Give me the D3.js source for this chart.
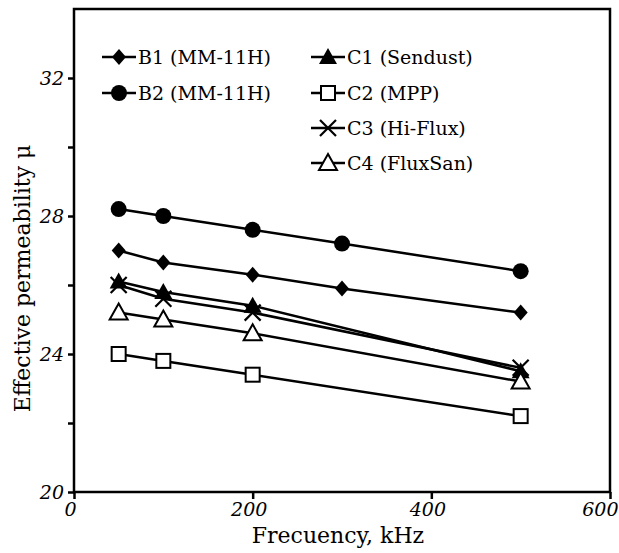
<!DOCTYPE html>
<html>
<head>
<meta charset="utf-8">
<title>permeability vs frequency</title>
<script src="https://d3js.org/d3.v7.min.js"></script>
<style>
  html, body { margin: 0; padding: 0; background: #fff; }
  svg { font-family: 'DejaVu Serif', 'Liberation Serif', serif; }
</style>
</head>
<body>
<div id="chart"></div>
<script>
// frequencies (kHz)
const freqB = [50, 100, 200, 300, 500]
const freqC = [50, 100, 200, 500]

// effective permeability values
const b1 = [27.0, 26.65, 26.3, 25.9, 25.2]
const b2 = [28.2, 28.0, 27.6, 27.2, 26.4]
const c1 = [26.1, 25.8, 25.4, 23.5]
const c2 = [24.0, 23.8, 23.4, 22.2]
const c3 = [26.0, 25.6, 25.2, 23.6]
const c4 = [25.2, 25.0, 24.6, 23.2]

const seriesNames = ['B1 (MM-11H)', 'B2 (MM-11H)', 'C1 (Sendust)', 'C2 (MPP)', 'C3 (Hi-Flux)', 'C4 (FluxSan)']
const xTicks = [0, 200, 400, 600]
const yTicks = [20, 22, 24, 26, 28, 30, 32]
const yLabels = [20, 24, 28, 32]

const series = [
  {name: seriesNames[0], x: freqB, y: b1, mark: 'diamond'},
  {name: seriesNames[1], x: freqB, y: b2, mark: 'circle'},
  {name: seriesNames[2], x: freqC, y: c1, mark: 'tri'},
  {name: seriesNames[3], x: freqC, y: c2, mark: 'square'},
  {name: seriesNames[4], x: freqC, y: c3, mark: 'cross'},
  {name: seriesNames[5], x: freqC, y: c4, mark: 'opentri'}
]

const W = 619, H = 553
const m = {left: 74, right: 9, top: 9, bottom: 61}

const svg = d3.select('#chart').append('svg')
  .attr('width', W).attr('height', H)

const x = d3.scaleLinear().domain([0, 600]).range([m.left, W - m.right])
const y = d3.scaleLinear().domain([20, 34]).range([H - m.bottom, m.top])

// frame
svg.append('rect')
  .attr('x', x(0)).attr('y', y(34))
  .attr('width', x(600) - x(0)).attr('height', y(20) - y(34))
  .attr('fill', 'none').attr('stroke', '#000').attr('stroke-width', 2.5)

// axes
const yAxis = d3.axisLeft(y).tickValues(yTicks).tickSize(6).tickPadding(4)
  .tickFormat(d => yLabels.includes(d) ? d : '')
const xAxis = d3.axisBottom(x).tickValues(xTicks).tickSize(7).tickPadding(4)

const gy = svg.append('g').attr('transform', `translate(${x(0)},0)`).call(yAxis)
const gx = svg.append('g').attr('transform', `translate(0,${y(20)})`).call(xAxis)

for (const g of [gx, gy]) {
  g.select('.domain').remove()
  g.selectAll('.tick line').attr('stroke', '#000').attr('stroke-width', 2.5)
  g.selectAll('.tick text')
    .attr('fill', '#000')
    .style('font-size', '19px')
    .style('font-style', 'italic')
    .style('font-family', "'DejaVu Serif', serif")
}
// x labels sit a little left of their ticks; last one is pulled in so it fits
gx.selectAll('.tick text').attr('dx', -4)
gx.selectAll('.tick text').filter(d => d === 600)
  .attr('text-anchor', 'end').attr('dx', 8)

// axis titles
svg.append('text')
  .attr('x', (x(0) + x(600)) / 2 - 4).attr('y', 543)
  .attr('text-anchor', 'middle')
  .style('font-size', '22px')
  .text('Frecuency, kHz')

svg.append('text')
  .attr('transform', `translate(30,${(y(20) + y(34)) / 2 + 28}) rotate(-90)`)
  .attr('text-anchor', 'middle')
  .style('font-size', '22px')
  .text('Effective permeability μ')

// marker drawing
function drawMark(g, type, cx, cy) {
  if (type === 'diamond') {
    g.append('path').attr('d', `M${cx},${cy - 8}L${cx + 7},${cy}L${cx},${cy + 8}L${cx - 7},${cy}Z`)
      .attr('fill', '#000')
  } else if (type === 'circle') {
    g.append('circle').attr('cx', cx).attr('cy', cy).attr('r', 8).attr('fill', '#000')
  } else if (type === 'tri') {
    g.append('path').attr('d', `M${cx},${cy - 9}L${cx + 9},${cy + 7}L${cx - 9},${cy + 7}Z`)
      .attr('fill', '#000')
  } else if (type === 'opentri') {
    g.append('path').attr('d', `M${cx},${cy - 9}L${cx + 9},${cy + 7}L${cx - 9},${cy + 7}Z`)
      .attr('fill', '#fff').attr('stroke', '#000').attr('stroke-width', 2)
  } else if (type === 'square') {
    g.append('rect').attr('x', cx - 7).attr('y', cy - 7).attr('width', 14).attr('height', 14)
      .attr('fill', '#fff').attr('stroke', '#000').attr('stroke-width', 2)
  } else if (type === 'cross') {
    g.append('path').attr('d', `M${cx - 8},${cy - 8}L${cx + 8},${cy + 8}M${cx - 8},${cy + 8}L${cx + 8},${cy - 8}`)
      .attr('stroke', '#000').attr('stroke-width', 2.2).attr('fill', 'none')
  }
}

const line = d3.line().x(d => x(d[0])).y(d => y(d[1]))

// lines first, then markers
series.forEach(s => {
  const pts = s.x.map((v, i) => [v, s.y[i]])
  svg.append('path').datum(pts)
    .attr('d', line)
    .attr('fill', 'none').attr('stroke', '#000').attr('stroke-width', 2.5)
})
series.forEach(s => {
  const g = svg.append('g')
  s.x.forEach((v, i) => drawMark(g, s.mark, x(v), y(s.y[i])))
})

// legend
const legendPos = [
  [119, 57], [119, 93],
  [328, 57], [328, 93], [328, 128], [328, 163]
]
series.forEach((s, i) => {
  const [lx, ly] = legendPos[i]
  const g = svg.append('g')
  g.append('line').attr('x1', lx - 17).attr('x2', lx + 17).attr('y1', ly).attr('y2', ly)
    .attr('stroke', '#000').attr('stroke-width', 2.5)
  drawMark(g, s.mark, lx, ly)
  g.append('text').attr('x', lx + 19).attr('y', ly + 7)
    .style('font-size', '19px')
    .text(s.name)
})
</script>
</body>
</html>
